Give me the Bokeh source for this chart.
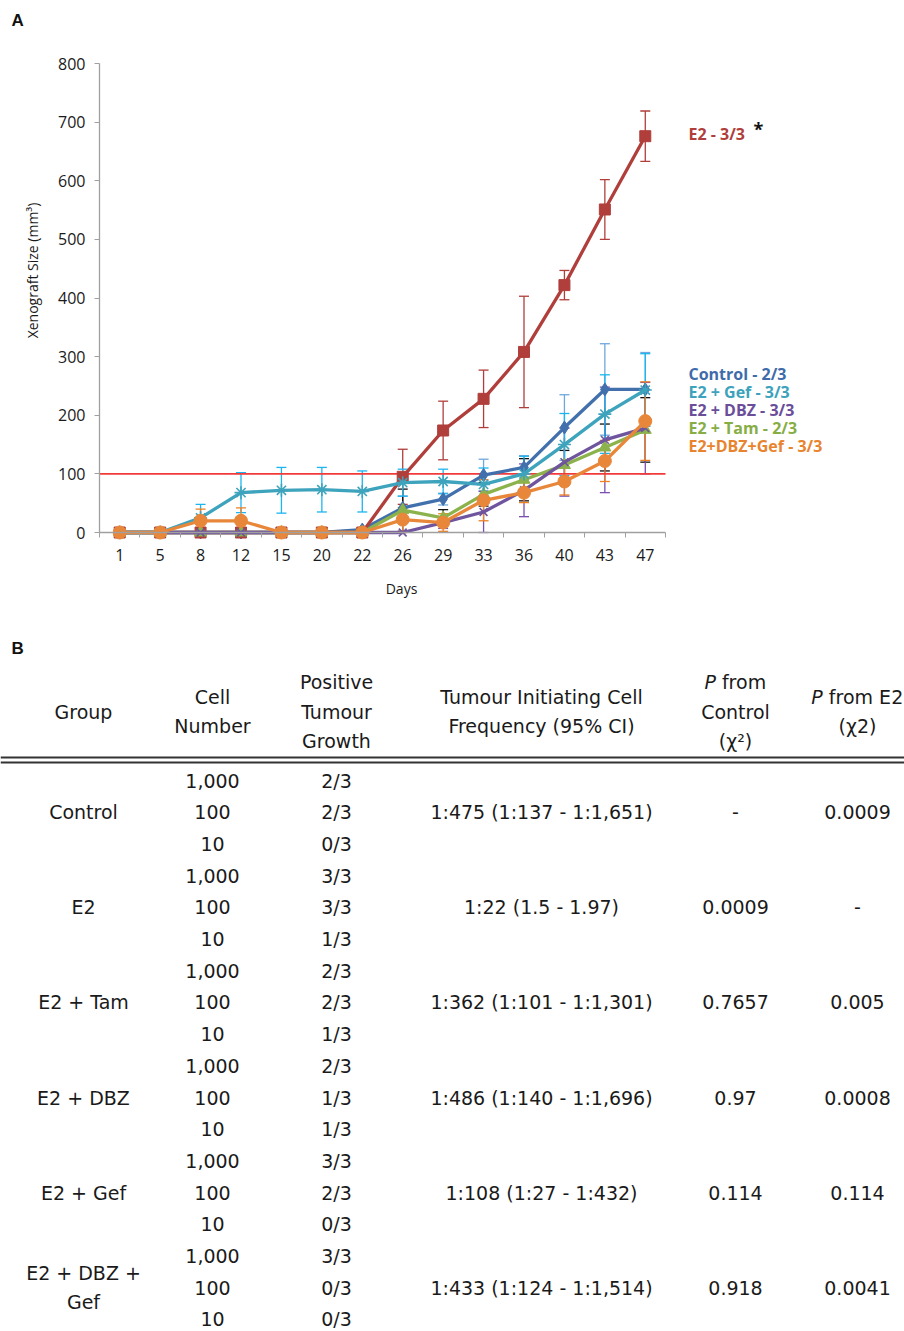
import numpy as np
from bokeh.plotting import figure
from bokeh.models import (ColumnDataSource, Range1d, FixedTicker, Whisker, TeeHead, Label, Span)
from bokeh.layouts import column
from bokeh.embed import file_html
from bokeh.resources import INLINE
from bokeh.core.properties import value

# ---------------- data: panel A ----------------
days = ["1", "5", "8", "12", "15", "20", "22", "26", "29", "33", "36", "40", "43", "47"]

control = [0, 0, 0, 0, 0, 0, 5, 42, 57, 98, 111, 179, 244, 244]
control_err = [0, 0, 0, 0, 0, 0, 0, 20, 10, 27, 20, 56, 78, 63]

e2 = [0, 0, 0, 0, 0, 0, 0, 95, 174, 228, 308, 422, 551, 676]
e2_err = [0, 0, 0, 0, 0, 0, 0, 47, 50, 49, 95, 25, 51, 43]

e2_tam = [0, 0, 0, 0, 0, 0, 0, 38, 25, 65, 90, 115, 145, 175]
e2_tam_err = [0, 0, 0, 0, 0, 0, 0, 36, 14, 20, 36, 25, 40, 55]

e2_dbz = [0, 0, 0, 0, 0, 0, 0, 0, 17, 35, 72, 120, 158, 178]
e2_dbz_err = [0, 0, 0, 0, 0, 0, 0, 0, 10, 35, 45, 58, 90, 78]

e2_gef = [0, 0, 25, 68, 72, 73, 70, 85, 87, 82, 100, 150, 202, 243]
e2_gef_err = [0, 0, 23, 34, 39, 38, 35, 23, 21, 28, 30, 53, 67, 62]

e2_dbz_gef = [0, 0, 20, 20, 0, 0, 0, 22, 17, 55, 68, 87, 122, 190]
e2_dbz_gef_err = [0, 0, 20, 22, 0, 0, 0, 20, 15, 35, 17, 23, 35, 67]

threshold = 100
y_ticks = list(range(0, 801, 100))
y_title = "Xenograft Size (mm³)"
x_title = "Days"

end_labels = ["Control - 2/3", "E2 + Gef - 3/3", "E2 + DBZ - 3/3", "E2 + Tam - 2/3", "E2+DBZ+Gef - 3/3"]
e2_label = "E2 - 3/3"

# ---------------- data: panel B ----------------
header = [["Group"], ["Cell", "Number"], ["Positive", "Tumour", "Growth"],
          ["Tumour Initiating Cell", "Frequency (95% CI)"],
          ["P from", "Control", "(χ²)"], ["P from E2", "(χ2)"]]
groups = ["Control", "E2", "E2 + Tam", "E2 + DBZ", "E2 + Gef", "E2 + DBZ +\nGef"]
cell_numbers = ["1,000", "100", "10"]
positive = [["2/3", "2/3", "0/3"], ["3/3", "3/3", "1/3"], ["2/3", "2/3", "1/3"],
            ["2/3", "1/3", "1/3"], ["3/3", "2/3", "0/3"], ["3/3", "0/3", "0/3"]]
tic_freq = ["1:475 (1:137 - 1:1,651)", "1:22 (1.5 - 1.97)", "1:362 (1:101 - 1:1,301)",
            "1:486 (1:140 - 1:1,696)", "1:108 (1:27 - 1:432)", "1:433 (1:124 - 1:1,514)"]
p_control = ["-", "0.0009", "0.7657", "0.97", "0.114", "0.918"]
p_e2 = ["0.0009", "-", "0.005", "0.0008", "0.114", "0.0041"]

# ---------------- styles ----------------
series = [
    ("Control", control, control_err, "#4170AD", "#6FA8DC", "diamond", 13),
    ("E2", e2, e2_err, "#B03E3B", "#B03E3B", "square", 11),
    ("E2 + Tam", e2_tam, e2_tam_err, "#8CB24C", "#111111", "triangle", 12),
    ("E2 + DBZ", e2_dbz, e2_dbz_err, "#6F549E", "#7A4FB0", "x", 11),
    ("E2 + Gef", e2_gef, e2_gef_err, "#3EA3BC", "#1CB5F0", "asterisk", 13),
    ("E2+DBZ+Gef", e2_dbz_gef, e2_dbz_gef_err, "#E8873A", "#EE7F22", "circle", 13),
]
label_colors = ["#3F6BAA", "#3DA2BC", "#6B4E9A", "#86AE45", "#E8842E"]

CH_FONT = "Open Sans"
TB_FONT = "DejaVu Sans"

# ---------------- panel A geometry (pixels) ----------------
W = 904
H1 = 620
AX_LEFT, AX_RIGHT = 99, 665      # x axis extent on page
AX_TOP, AX_BOTTOM = 63, 532      # y = 800 / y = 0 on page
ppx = (AX_RIGHT - AX_LEFT) / len(days)
ppy = (AX_BOTTOM - AX_TOP) / y_ticks[-1]


def px2x(px):
    return (px - AX_LEFT) / ppx


def px2y(py):
    return (AX_BOTTOM - py) / ppy


x = np.arange(len(days)) + 0.5

p1 = figure(width=W, height=H1, x_range=Range1d(px2x(0), px2x(W)),
            y_range=Range1d(px2y(H1), px2y(0)),
            output_backend="svg", toolbar_location=None,
            min_border_left=0, min_border_right=0, min_border_top=0, min_border_bottom=0)
p1.outline_line_color = None
p1.grid.grid_line_color = None

p1.yaxis.fixed_location = 0
p1.yaxis.bounds = (0, y_ticks[-1])
p1.yaxis.ticker = FixedTicker(ticks=y_ticks)
p1.yaxis.major_tick_out = 5
p1.yaxis.major_tick_in = 0
p1.yaxis.major_label_standoff = 9

p1.xaxis.fixed_location = 0
p1.xaxis.bounds = (0, len(days))
p1.xaxis.ticker = FixedTicker(ticks=list(x), minor_ticks=list(range(0, len(days) + 1)))
p1.xaxis.major_label_overrides = {float(xx): d for xx, d in zip(x, days)}
p1.xaxis.major_tick_out = 0
p1.xaxis.major_tick_in = 0
p1.xaxis.minor_tick_out = 5
p1.xaxis.minor_tick_in = 0
p1.xaxis.major_label_standoff = 11

for ax in (p1.xaxis[0], p1.yaxis[0]):
    ax.axis_line_color = "#A0A0A0"
    ax.axis_line_width = 1.3
    ax.major_tick_line_color = "#A0A0A0"
    ax.major_label_text_font = CH_FONT
    ax.major_label_text_font_size = "16px"
    ax.major_label_text_color = "#1a1a1a"
p1.xaxis.minor_tick_line_color = "#A0A0A0"
p1.yaxis.minor_tick_line_color = None

# axis titles (offset from the axis centres, as in the original)
p1.add_layout(Label(x=px2x(32), y=px2y(270), text=y_title, angle=90, angle_units="deg",
                    text_font=CH_FONT, text_font_size="14px", text_color="#1a1a1a",
                    text_align="center", text_baseline="middle"))
p1.add_layout(Label(x=px2x(401), y=px2y(588), text=x_title,
                    text_font=CH_FONT, text_font_size="14px", text_color="#1a1a1a",
                    text_align="center", text_baseline="middle"))

p1.line([0, len(days)], [threshold, threshold], line_color="#F23A3A", line_width=1.6)

for name, vals, errs, col, ecol, marker, msize in series:
    v = np.array(vals, dtype=float)
    e = np.array(errs, dtype=float)
    p1.line(x, v, line_color=col, line_width=3.3)
    if marker in ("x", "asterisk"):
        p1.scatter(x, v, marker=marker, size=msize, line_color=col, line_width=1.6)
    else:
        p1.scatter(x, v, marker=marker, size=msize, fill_color=col, line_color=col)
    m = e > 0
    src = ColumnDataSource(dict(base=x[m], upper=(v + e)[m], lower=(v - e)[m]))
    p1.add_layout(Whisker(source=src, base="base", upper="upper", lower="lower",
                          line_color=ecol, line_width=1.3,
                          upper_head=TeeHead(size=10, line_color=ecol, line_width=1.3),
                          lower_head=TeeHead(size=10, line_color=ecol, line_width=1.3)))

# end labels
LAB_X = px2x(688)
p1.add_layout(Label(x=LAB_X, y=px2y(133), text=e2_label, text_font=CH_FONT,
                    text_font_size="16px", text_font_style="bold", text_color="#B03E3B",
                    text_baseline="middle"))
p1.add_layout(Label(x=px2x(753), y=px2y(128), text="*", text_font=CH_FONT,
                    text_font_size="18px", text_font_style="bold", text_color="#111111",
                    text_baseline="middle"))
for k, (t, c) in enumerate(zip(end_labels, label_colors)):
    p1.add_layout(Label(x=LAB_X, y=px2y(373 + k * 18.1), text=t, text_font=CH_FONT,
                        text_font_size="16px", text_font_style="bold", text_color=c,
                        text_baseline="middle"))

p1.add_layout(Label(x=px2x(11), y=px2y(20), text="A", text_font="Liberation Sans",
                    text_font_size="17px", text_font_style="bold", text_color="#111111",
                    text_baseline="middle"))

# ---------------- panel B table ----------------
H2 = 1331 - H1
p2 = figure(width=W, height=H2, x_range=Range1d(0, W), y_range=Range1d(1331, H1),
            output_backend="svg", toolbar_location=None,
            min_border_left=0, min_border_right=0, min_border_top=0, min_border_bottom=0,
            x_axis_location=None, y_axis_location=None)
p2.outline_line_color = None
p2.grid.grid_line_color = None

FS = 19
col_x = [83, 212, 336, 541, 735, 857]
header_mid = 711
header_pitch = 29.5
row0 = 780
row_pitch = 31.7

EM = {"P": .603, " ": .318, "f": .352, "r": .411, "o": .612, "m": .974, "E": .632, "2": .636}


def tw(s):
    return sum(EM.get(ch, .6) for ch in s) * FS


hx, hy, ht = [], [], []
ix, iy, it = [], [], []
rx, ry, rt = [], [], []
for cx, lines in zip(col_x, header):
    n = len(lines)
    for j, ln in enumerate(lines):
        yy = header_mid + (j - (n - 1) / 2) * header_pitch
        if ln.startswith("P "):
            start = cx - tw(ln) / 2
            ix.append(start); iy.append(yy); it.append("P")
            rx.append(start + tw("P ")); ry.append(yy); rt.append(ln[2:])
        else:
            hx.append(cx); hy.append(yy); ht.append(ln)

fs = f"{FS}px"
p2.text(hx, hy, text=ht, text_font=value(TB_FONT), text_font_size=fs, text_color="#1a1a1a",
        text_align="center", text_baseline="middle")
p2.text(ix, iy, text=it, text_font=value(TB_FONT), text_font_size=fs, text_color="#1a1a1a",
        text_font_style="italic", text_align="left", text_baseline="middle")
p2.text(rx, ry, text=rt, text_font=value(TB_FONT), text_font_size=fs, text_color="#1a1a1a",
        text_align="left", text_baseline="middle")

p2.add_layout(Span(location=757, dimension="width", line_color="#333333", line_width=2.2))
p2.add_layout(Span(location=762, dimension="width", line_color="#333333", line_width=2.2))

tx, ty, tt = [], [], []
for g in range(len(groups)):
    mid = row0 + (3 * g + 1) * row_pitch
    for r in range(3):
        yy = row0 + (3 * g + r) * row_pitch
        tx += [col_x[1], col_x[2]]; ty += [yy, yy]; tt += [cell_numbers[r], positive[g][r]]
    glines = groups[g].split("\n")
    for j, gl in enumerate(glines):
        tx.append(col_x[0]); ty.append(mid + (j - (len(glines) - 1) / 2) * 29); tt.append(gl)
    tx += [col_x[3], col_x[4], col_x[5]]
    ty += [mid, mid, mid]
    tt += [tic_freq[g], p_control[g], p_e2[g]]

p2.text(tx, ty, text=tt, text_font=value(TB_FONT), text_font_size=fs, text_color="#1a1a1a",
        text_align="center", text_baseline="middle")

p2.add_layout(Label(x=11, y=648, text="B", text_font="Liberation Sans", text_font_size="17px",
                    text_font_style="bold", text_color="#111111", text_baseline="middle"))

layout = column(p1, p2, spacing=0)
open("out.html", "w").write(file_html(layout, INLINE))
